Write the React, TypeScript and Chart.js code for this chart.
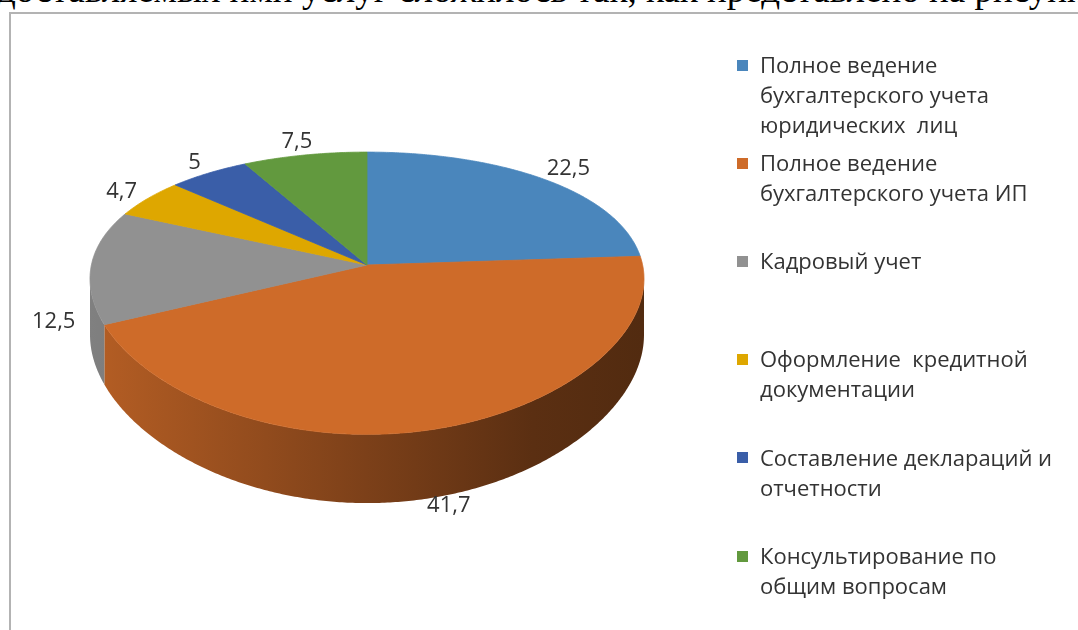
import React, { useEffect, useRef } from 'react';
import { Chart, registerables } from 'chart.js';

Chart.register(...registerables);

// ---------- data ----------
const caption = 'доставляемых ими услуг сложилось так, как представлено на рисунке';
const categories = [
  'Полное ведение\nбухгалтерского учета\nюридических  лиц',
  'Полное ведение\nбухгалтерского учета ИП',
  'Кадровый учет',
  'Оформление  кредитной\nдокументации',
  'Составление деклараций и\nотчетности',
  'Консультирование по\nобщим вопросам',
];
const values = [22.5, 41.7, 12.5, 4.7, 5, 7.5];
const colors = ['#4A86BC', '#CE6B29', '#919191', '#DEA700', '#3A5EA8', '#62993E'];

// ---------- style constants ----------
const KX = 0.1; // horizontal perspective
const KY = 0.2; // vertical perspective
const AX = 1.04; // horizontal radius factor
const BY = 0.5113; // vertical radius factor
const DEPTH = 0.2075; // thickness factor
const LABEL_FONT = '22px "Open Sans"';
const TEXT_COLOR = '#333333';

const fmt = (v: number) => String(v).replace('.', ',');

function hexToRgb(h: string): number[] {
  const s = h.replace('#', '');
  return [0, 2, 4].map((i) => parseInt(s.slice(i, i + 2), 16));
}
function shade(rgb: number[], f: number) {
  return `rgb(${Math.round(rgb[0] * f)},${Math.round(rgb[1] * f)},${Math.round(rgb[2] * f)})`;
}

const pie3d = {
  id: 'pie3d',
  beforeDatasetsDraw(chart: any) {
    const ctx: CanvasRenderingContext2D = chart.ctx;
    const meta = chart.getDatasetMeta(0);
    const arcs: any[] = meta.data;
    if (!arcs.length) return false;
    const cx = arcs[0].x;
    const cy = arcs[0].y;
    const R = arcs[0].outerRadius;
    const A = R * AX;
    const B = R * BY;
    const H = R * DEPTH;
    const proj = (t: number, r: number, z: number) => {
      const u = r * Math.cos(t);
      const v = r * Math.sin(t);
      return [cx + (A * u) / (1 - KX * v), cy + (B * v + H * z) / (1 - KY * v)];
    };
    const cols = chart.data.datasets[0].backgroundColor as string[];
    const data = chart.data.datasets[0].data as number[];
    const t0 = Math.asin(KX);
    const t1 = Math.PI - t0;
    const step = Math.PI / 360;
    ctx.save();
    ctx.lineJoin = 'round';
    // side walls
    arcs.forEach((arc, i) => {
      const a = Math.max(arc.startAngle, t0);
      const b = Math.min(arc.endAngle, t1);
      if (b <= a) return;
      const rgb = hexToRgb(cols[i]);
      const n = Math.max(2, Math.ceil((b - a) / step));
      const grad = ctx.createLinearGradient(cx - A, 0, cx + A, 0);
      grad.addColorStop(0, shade(rgb, 0.88));
      grad.addColorStop(0.5, shade(rgb, 0.6));
      grad.addColorStop(0.8, shade(rgb, 0.44));
      grad.addColorStop(1, shade(rgb, 0.4));
      ctx.beginPath();
      for (let k = 0; k <= n; k++) {
        const p = proj(a + ((b - a) * k) / n, 1, 0);
        if (k === 0) ctx.moveTo(p[0], p[1]);
        else ctx.lineTo(p[0], p[1]);
      }
      for (let k = n; k >= 0; k--) {
        const p = proj(a + ((b - a) * k) / n, 1, 1);
        ctx.lineTo(p[0], p[1]);
      }
      ctx.closePath();
      ctx.fillStyle = grad;
      ctx.fill();
    });
    // top faces
    arcs.forEach((arc, i) => {
      const a = arc.startAngle;
      const b = arc.endAngle;
      const n = Math.max(2, Math.ceil((b - a) / step));
      ctx.beginPath();
      ctx.moveTo(cx, cy);
      for (let k = 0; k <= n; k++) {
        const p = proj(a + ((b - a) * k) / n, 1, 0);
        ctx.lineTo(p[0], p[1]);
      }
      ctx.closePath();
      ctx.fillStyle = cols[i];
      ctx.strokeStyle = cols[i];
      ctx.lineWidth = 0.8;
      ctx.fill();
      ctx.stroke();
    });
    // data labels
    ctx.font = LABEL_FONT;
    ctx.fillStyle = TEXT_COLOR;
    ctx.textAlign = 'center';
    ctx.textBaseline = 'alphabetic';
    const th = 16;
    arcs.forEach((arc, i) => {
      const mid = (arc.startAngle + arc.endAngle) / 2;
      const u = Math.cos(mid);
      const v = Math.sin(mid);
      const z = v > -0.3 ? 1 : 0;
      const p = proj(mid, 1, z);
      const label = fmt(data[i]);
      const tw = ctx.measureText(label).width;
      const gy = z ? 0 : 8;
      const x = p[0] + u * (tw / 2 + 16);
      const y = p[1] + v * (th / 2 + gy);
      ctx.fillText(label, x, y + th / 2);
    });
    ctx.restore();
    return false;
  },
};

function PieChart() {
  const ref = useRef<HTMLCanvasElement | null>(null);
  useEffect(() => {
    if (!ref.current) return;
    const chart = new Chart(ref.current, {
      type: 'pie',
      data: {
        labels: categories.map((c) => c.replace(/\n/g, ' ')),
        datasets: [
          {
            data: values,
            backgroundColor: colors,
            borderWidth: 0,
          },
        ],
      },
      options: {
        responsive: false,
        animation: false,
        events: [],
        layout: { padding: { left: 90, right: 434, top: 0, bottom: 100 } },
        plugins: {
          legend: { display: false },
          tooltip: { enabled: false },
        },
      },
      plugins: [pie3d as any],
    });
    return () => chart.destroy();
  }, []);
  return (
    <canvas
      ref={ref}
      width={1078}
      height={630}
      style={{ position: 'absolute', left: 0, top: 0, width: 1078, height: 630 }}
    />
  );
}

const LEG_TOP = 48.75;
const LEG_STEP = 98.2;
const LEG_LINE = 32.5;

export default function App() {
  return (
    <div
      style={{
        position: 'fixed',
        left: 0,
        top: 0,
        width: 1078,
        height: 630,
        overflow: 'hidden',
        background: '#fff',
      }}
    >
      <div
        style={{
          position: 'absolute',
          left: -3,
          top: -29,
          font: '37px "Liberation Serif", serif',
          lineHeight: '37px',
          whiteSpace: 'nowrap',
          color: '#000',
        }}
      >
        {caption}
      </div>
      <div
        style={{
          position: 'absolute',
          left: 9,
          top: 12,
          width: 1200,
          height: 800,
          borderTop: '2px solid #b3b3b3',
          borderLeft: '2px solid #b3b3b3',
        }}
      />
      <PieChart />
      {categories.map((c, i) => (
        <div
          key={i}
          style={{ position: 'absolute', left: 737, top: LEG_TOP + i * LEG_STEP, height: LEG_STEP }}
        >
          <div
            style={{
              position: 'absolute',
              left: 0,
              top: (LEG_LINE - 11) / 2,
              width: 11,
              height: 11,
              background: colors[i],
            }}
          />
          <div
            style={{
              position: 'absolute',
              left: 23,
              top: 0,
              whiteSpace: 'pre',
              lineHeight: LEG_LINE + 'px',
              font: '22px "Open Sans"',
              color: TEXT_COLOR,
            }}
          >
            {c}
          </div>
        </div>
      ))}
    </div>
  );
}
